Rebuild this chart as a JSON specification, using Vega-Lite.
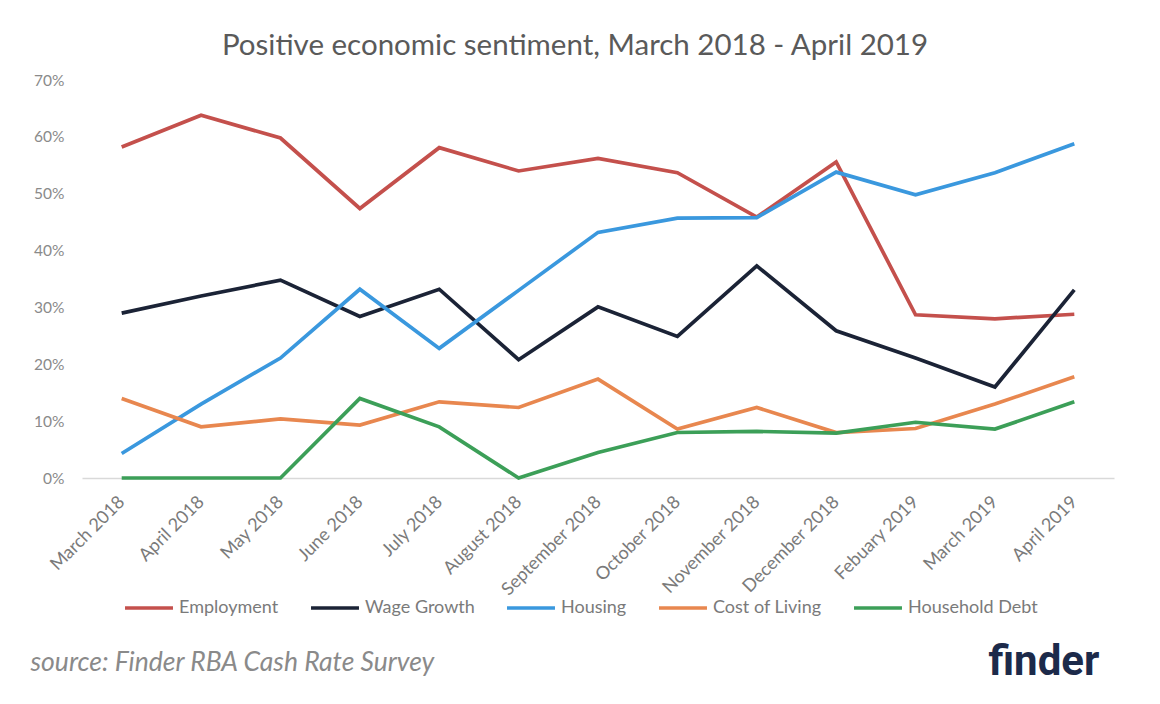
{
  "$schema": "https://vega.github.io/schema/vega-lite/v6.json",
  "width": 1032,
  "height": 398,
  "autosize": {"type": "none"},
  "padding": {"left": 82, "top": 80, "right": 46, "bottom": 226},
  "background": "white",
  "title": {
    "text": "Positive economic sentiment, March 2018 - April 2019",
    "anchor": "middle",
    "dx": -23,
    "offset": 12,
    "font": "Lato",
    "fontSize": 29.5,
    "fontWeight": "normal",
    "color": "#5a5a5a"
  },
  "config": {
    "view": {"stroke": null},
    "font": "Lato"
  },
  "data": {
    "values": [
      {"month": "March 2018", "series": "Employment", "value": 58.2},
      {"month": "April 2018", "series": "Employment", "value": 63.8},
      {"month": "May 2018", "series": "Employment", "value": 59.8},
      {"month": "June 2018", "series": "Employment", "value": 47.4},
      {"month": "July 2018", "series": "Employment", "value": 58.1},
      {"month": "August 2018", "series": "Employment", "value": 54.0},
      {"month": "September 2018", "series": "Employment", "value": 56.2},
      {"month": "October 2018", "series": "Employment", "value": 53.7},
      {"month": "November 2018", "series": "Employment", "value": 45.9},
      {"month": "December 2018", "series": "Employment", "value": 55.6},
      {"month": "Febuary 2019", "series": "Employment", "value": 28.7},
      {"month": "March 2019", "series": "Employment", "value": 28.0},
      {"month": "April 2019", "series": "Employment", "value": 28.8},
      {"month": "March 2018", "series": "Wage Growth", "value": 29.0},
      {"month": "April 2018", "series": "Wage Growth", "value": 32.0},
      {"month": "May 2018", "series": "Wage Growth", "value": 34.8},
      {"month": "June 2018", "series": "Wage Growth", "value": 28.4},
      {"month": "July 2018", "series": "Wage Growth", "value": 33.2},
      {"month": "August 2018", "series": "Wage Growth", "value": 20.8},
      {"month": "September 2018", "series": "Wage Growth", "value": 30.1},
      {"month": "October 2018", "series": "Wage Growth", "value": 24.9},
      {"month": "November 2018", "series": "Wage Growth", "value": 37.3},
      {"month": "December 2018", "series": "Wage Growth", "value": 25.9},
      {"month": "Febuary 2019", "series": "Wage Growth", "value": 21.1},
      {"month": "March 2019", "series": "Wage Growth", "value": 16.0},
      {"month": "April 2019", "series": "Wage Growth", "value": 33.1},
      {"month": "March 2018", "series": "Housing", "value": 4.3},
      {"month": "April 2018", "series": "Housing", "value": 13.0},
      {"month": "May 2018", "series": "Housing", "value": 21.1},
      {"month": "June 2018", "series": "Housing", "value": 33.2},
      {"month": "July 2018", "series": "Housing", "value": 22.8},
      {"month": "August 2018", "series": "Housing", "value": 33.0},
      {"month": "September 2018", "series": "Housing", "value": 43.2},
      {"month": "October 2018", "series": "Housing", "value": 45.7},
      {"month": "November 2018", "series": "Housing", "value": 45.8},
      {"month": "December 2018", "series": "Housing", "value": 53.8},
      {"month": "Febuary 2019", "series": "Housing", "value": 49.8},
      {"month": "March 2019", "series": "Housing", "value": 53.7},
      {"month": "April 2019", "series": "Housing", "value": 58.8},
      {"month": "March 2018", "series": "Cost of Living", "value": 14.0},
      {"month": "April 2018", "series": "Cost of Living", "value": 9.0},
      {"month": "May 2018", "series": "Cost of Living", "value": 10.4},
      {"month": "June 2018", "series": "Cost of Living", "value": 9.3},
      {"month": "July 2018", "series": "Cost of Living", "value": 13.4},
      {"month": "August 2018", "series": "Cost of Living", "value": 12.4},
      {"month": "September 2018", "series": "Cost of Living", "value": 17.4},
      {"month": "October 2018", "series": "Cost of Living", "value": 8.6},
      {"month": "November 2018", "series": "Cost of Living", "value": 12.4},
      {"month": "December 2018", "series": "Cost of Living", "value": 8.0},
      {"month": "Febuary 2019", "series": "Cost of Living", "value": 8.7},
      {"month": "March 2019", "series": "Cost of Living", "value": 13.0},
      {"month": "April 2019", "series": "Cost of Living", "value": 17.8},
      {"month": "March 2018", "series": "Household Debt", "value": 0},
      {"month": "April 2018", "series": "Household Debt", "value": 0},
      {"month": "May 2018", "series": "Household Debt", "value": 0},
      {"month": "June 2018", "series": "Household Debt", "value": 14.0},
      {"month": "July 2018", "series": "Household Debt", "value": 9.0},
      {"month": "August 2018", "series": "Household Debt", "value": 0},
      {"month": "September 2018", "series": "Household Debt", "value": 4.5},
      {"month": "October 2018", "series": "Household Debt", "value": 8.0},
      {"month": "November 2018", "series": "Household Debt", "value": 8.2},
      {"month": "December 2018", "series": "Household Debt", "value": 7.9},
      {"month": "Febuary 2019", "series": "Household Debt", "value": 9.8},
      {"month": "March 2019", "series": "Household Debt", "value": 8.6},
      {"month": "April 2019", "series": "Household Debt", "value": 13.4}
    ]
  },
  "mark": {"type": "line", "strokeWidth": 3.7, "strokeJoin": "miter"},
  "encoding": {
    "x": {
      "field": "month",
      "type": "ordinal",
      "sort": null,
      "scale": {"type": "point", "padding": 0.5},
      "axis": {
        "title": "source: Finder RBA Cash Rate Survey",
        "titleFont": "Lato",
        "titleFontStyle": "italic",
        "titleFontWeight": "normal",
        "titleFontSize": 26.5,
        "titleColor": "#8a8a8a",
        "titleAnchor": "start",
        "titleAlign": "left",
        "titleBaseline": "alphabetic",
        "titleX": -52,
        "titleY": 192,
        "labelAngle": -45,
        "labelAlign": "right",
        "labelBaseline": "middle",
        "labelFontSize": 18,
        "labelColor": "#7a7a7a",
        "labelPadding": 21,
        "ticks": false,
        "domainColor": "#d9d9d9",
        "domainWidth": 1.5,
        "grid": false
      }
    },
    "y": {
      "field": "value",
      "type": "quantitative",
      "scale": {"domain": [0, 70], "nice": false},
      "axis": {
        "values": [0, 10, 20, 30, 40, 50, 60, 70],
        "labelExpr": "datum.value + '%'",
        "labelFontSize": 15.5,
        "labelColor": "#8a8a8a",
        "labelPadding": 18,
        "ticks": false,
        "domain": false,
        "grid": false,
        "title": "finder",
        "titleFont": "Roboto",
        "titleFontWeight": "bold",
        "titleFontSize": 42,
        "titleColor": "#1c2a4a",
        "titleAngle": 0,
        "titleAlign": "left",
        "titleBaseline": "alphabetic",
        "titleX": 906,
        "titleY": 594
      }
    },
    "color": {
      "field": "series",
      "type": "nominal",
      "scale": {
        "domain": ["Employment", "Wage Growth", "Housing", "Cost of Living", "Household Debt"],
        "range": ["#c4504c", "#1b2336", "#3a98de", "#e8874f", "#3c9f58"]
      },
      "legend": {
        "orient": "none",
        "legendX": 41,
        "legendY": 502,
        "direction": "horizontal",
        "columns": 5,
        "title": null,
        "symbolType": "stroke",
        "symbolSize": 2300,
        "symbolStrokeWidth": 3.7,
        "labelFontSize": 18,
        "labelColor": "#7a7a7a",
        "labelOffset": 4,
        "columnPadding": 24,
        "padding": 0
      }
    }
  }
}
